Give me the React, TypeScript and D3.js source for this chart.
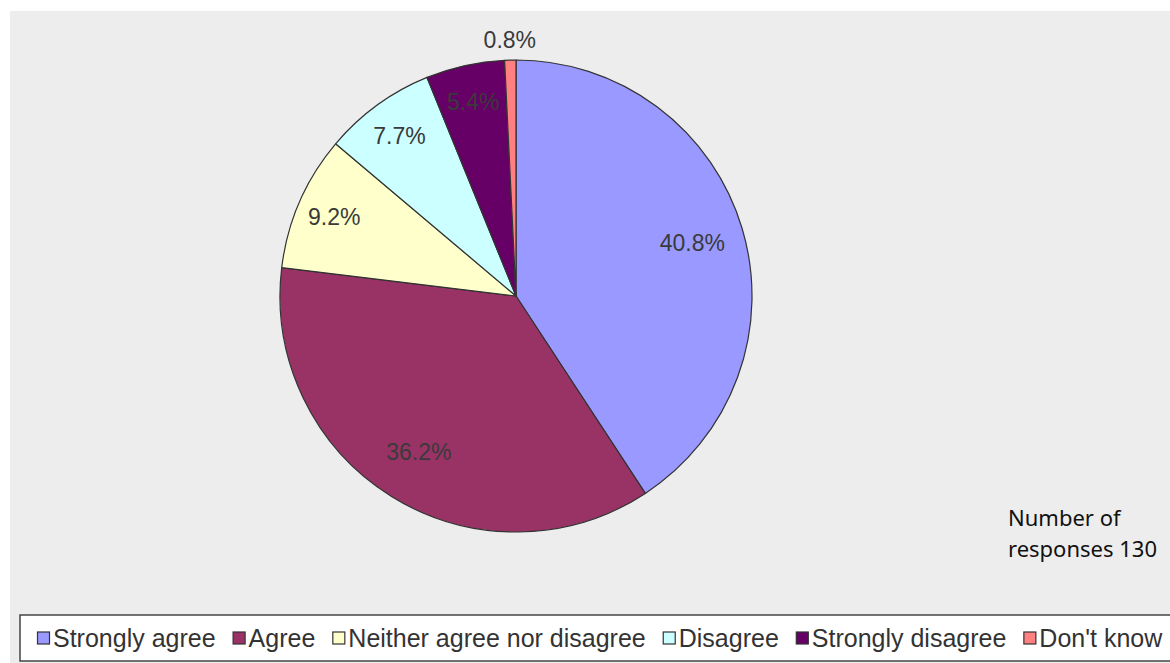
import React, { useEffect, useRef } from "react";
import * as d3 from "d3";

const categories = [
  "Strongly agree",
  "Agree",
  "Neither agree nor disagree",
  "Disagree",
  "Strongly disagree",
  "Don't know",
];
const responses = [53, 47, 12, 10, 7, 1];
const colors = ["#9999ff", "#993366", "#ffffcc", "#ccffff", "#660066", "#ff8080"];
const totalLabel = ["Number of", "responses 130"];

const W = 1170;
const H = 663;

export default function App() {
  const ref = useRef<SVGSVGElement | null>(null);

  useEffect(() => {
    const svg = d3.select(ref.current);
    svg.selectAll("*").remove();

    svg
      .append("rect")
      .attr("x", 10)
      .attr("y", 11)
      .attr("width", W - 10)
      .attr("height", H - 11)
      .attr("fill", "#ededed");

    const cx = 516;
    const cy = 296;
    const R = 236;
    const total = d3.sum(responses);

    const pie = d3
      .pie<number>()
      .sort(null)
      .value((d) => d);
    const arcs = pie(responses);
    const arc = d3.arc<d3.PieArcDatum<number>>().innerRadius(0).outerRadius(R);

    const g = svg.append("g").attr("transform", `translate(${cx},${cy})`);
    g.selectAll("path")
      .data(arcs)
      .join("path")
      .attr("d", arc as any)
      .attr("fill", (_, i) => colors[i])
      .attr("stroke", "#333")
      .attr("stroke-width", 1.2)
      .attr("stroke-linejoin", "round");

    const fmt = (v: number) => ((v / total) * 100).toFixed(1) + "%";
    g.selectAll("text.lbl")
      .data(arcs)
      .join("text")
      .attr("class", "lbl")
      .each(function (d) {
        const frac = d.value / total;
        const mid = (d.startAngle + d.endAngle) / 2;
        const r = frac < 0.02 ? R + 20 : frac > 0.2 ? R * 0.78 : R * 0.84;
        d3.select(this)
          .attr("x", Math.sin(mid) * r)
          .attr("y", -Math.cos(mid) * r);
      })
      .attr("text-anchor", "middle")
      .attr("dominant-baseline", "central")
      .attr("font-family", "'Liberation Sans', Arial, sans-serif")
      .attr("font-size", 23)
      .attr("fill", "#3a3a3a")
      .text((d) => fmt(d.value));

    const note = svg
      .append("text")
      .attr("font-family", "'Noto Sans', sans-serif")
      .attr("font-size", 22)
      .attr("fill", "#111");
    totalLabel.forEach((t, i) => {
      note
        .append("tspan")
        .attr("x", 1008)
        .attr("y", 526 + i * 31)
        .text(t);
    });

    // Legend
    svg
      .append("rect")
      .attr("x", 20)
      .attr("y", 615)
      .attr("width", 1170)
      .attr("height", 46)
      .attr("fill", "#fff")
      .attr("stroke", "#444")
      .attr("stroke-width", 1.5);

    let x = 37;
    const ly = 638;
    categories.forEach((c, i) => {
      svg
        .append("rect")
        .attr("x", x + 0.5)
        .attr("y", ly - 6)
        .attr("width", 12)
        .attr("height", 12)
        .attr("fill", colors[i])
        .attr("stroke", "#333")
        .attr("stroke-width", 1.2);
      const t = svg
        .append("text")
        .attr("x", x + 16)
        .attr("y", ly)
        .attr("dominant-baseline", "central")
        .attr("font-family", "'Liberation Sans', Arial, sans-serif")
        .attr("font-size", 25)
        .attr("fill", "#333")
        .text(c);
      const w = (t.node() as SVGTextElement).getComputedTextLength();
      x = x + 16 + w + 17;
    });
  }, []);

  return (
    <svg
      ref={ref}
      width={W}
      height={H}
      style={{ position: "absolute", left: 0, top: 0, display: "block" }}
    />
  );
}
